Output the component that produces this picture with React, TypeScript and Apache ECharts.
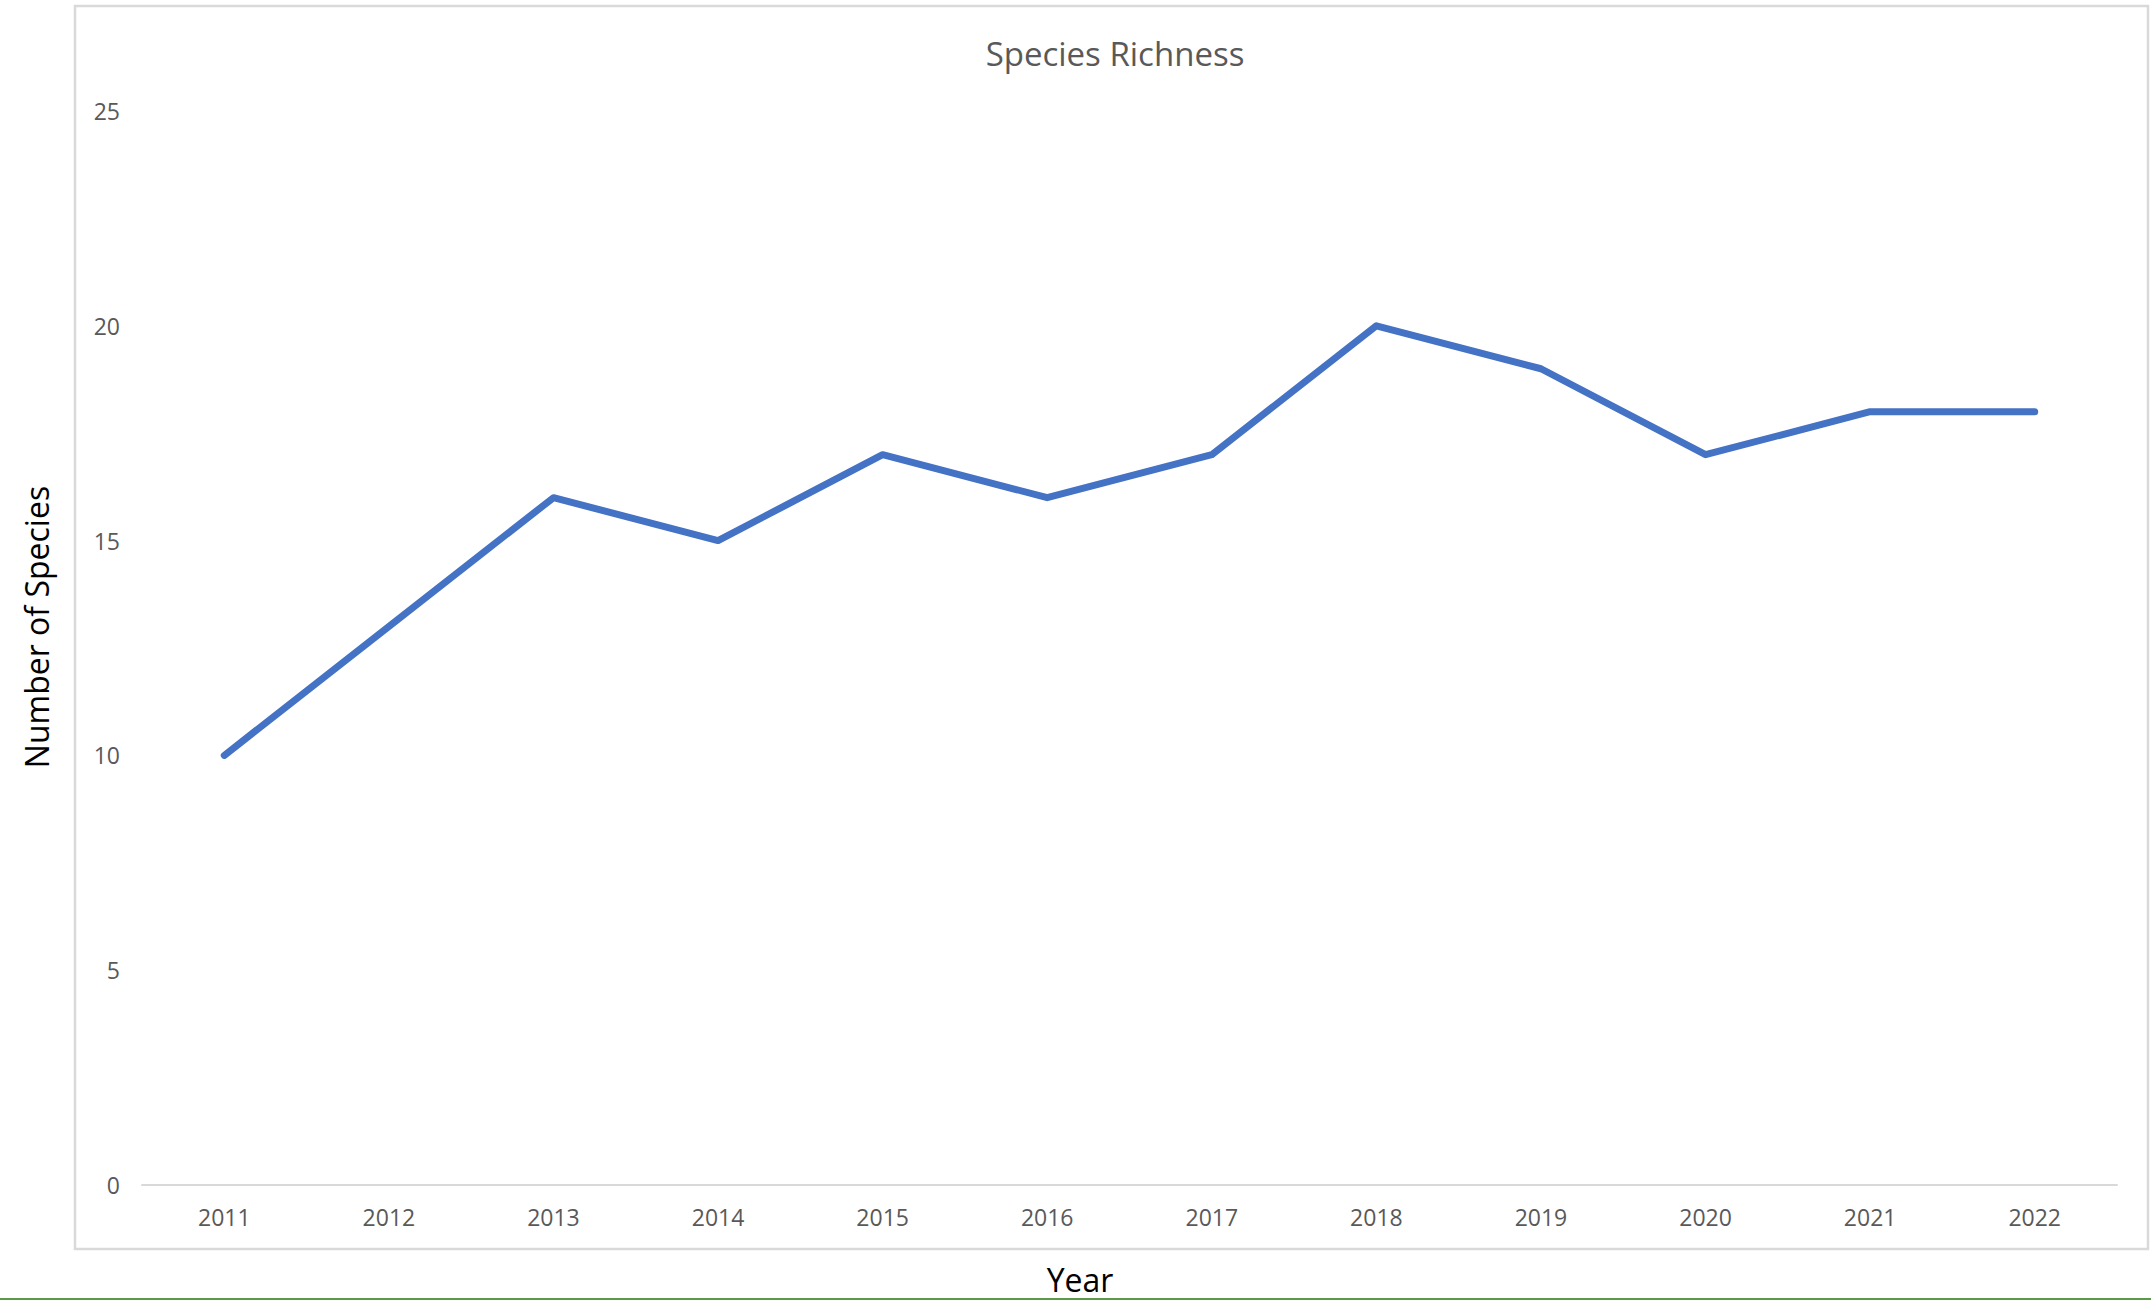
import React, { useEffect, useRef } from "react";
import * as echarts from "echarts";

const years = ["2011", "2012", "2013", "2014", "2015", "2016", "2017", "2018", "2019", "2020", "2021", "2022"];
const speciesCounts = [10, 13, 16, 15, 17, 16, 17, 20, 19, 17, 18, 18];
const yTicks = { min: 0, max: 25, interval: 5 };

const FONT = "'Open Sans', 'Noto Sans', 'DejaVu Sans', sans-serif";

export default function App() {
  const ref = useRef<HTMLDivElement>(null);

  useEffect(() => {
    document.body.style.margin = "0";
    if (!ref.current) return;
    const chart = echarts.init(ref.current, null, { renderer: "svg" });
    chart.setOption({
      animation: false,
      backgroundColor: "#ffffff",
      title: {
        text: "Species Richness",
        left: 1110,
        top: 32,
        textAlign: "center",
        textStyle: { fontFamily: FONT, fontSize: 33, fontWeight: "normal", color: "#595959" },
      },
      grid: { left: 142, right: 34, top: 111, bottom: 115, containLabel: false },
      xAxis: {
        type: "category",
        data: years,
        boundaryGap: true,
        axisLine: { show: true, lineStyle: { color: "#d9d9d9", width: 2 } },
        axisTick: { show: false },
        axisLabel: { fontFamily: FONT, fontSize: 23, color: "#595959", margin: 20 },
        splitLine: { show: false },
      },
      yAxis: {
        type: "value",
        min: yTicks.min,
        max: yTicks.max,
        interval: yTicks.interval,
        axisLine: { show: false },
        axisTick: { show: false },
        axisLabel: { fontFamily: FONT, fontSize: 23, color: "#595959", margin: 22 },
        splitLine: { show: false },
      },
      series: [
        {
          type: "line",
          data: speciesCounts,
          showSymbol: false,
          symbol: "none",
          lineStyle: { color: "#4472C4", width: 7, cap: "round", join: "round" },
          itemStyle: { color: "#4472C4" },
        },
      ],
      graphic: [
        {
          type: "rect",
          shape: { x: 75, y: 6, width: 2073, height: 1243 },
          style: { fill: "none", stroke: "#d9d9d9", lineWidth: 2.5 },
          silent: true,
        },
        {
          type: "text",
          x: 36,
          y: 627,
          rotation: Math.PI / 2,
          style: {
            text: "Number of Species",
            fontFamily: FONT,
            fontSize: 32,
            fill: "#000000",
            align: "center",
            verticalAlign: "middle",
          },
          silent: true,
        },
        {
          type: "text",
          x: 1080,
          y: 1279,
          style: {
            text: "Year",
            fontFamily: FONT,
            fontSize: 32,
            fill: "#000000",
            align: "center",
            verticalAlign: "middle",
          },
          silent: true,
        },
        {
          type: "line",
          shape: { x1: 0, y1: 1299, x2: 2151, y2: 1299 },
          style: { stroke: "#5a9a48", lineWidth: 2 },
          silent: true,
        },
      ],
    });
    return () => chart.dispose();
  }, []);

  return (
    <div
      ref={ref}
      style={{ position: "absolute", left: 0, top: 0, width: 2151, height: 1300 }}
    />
  );
}
